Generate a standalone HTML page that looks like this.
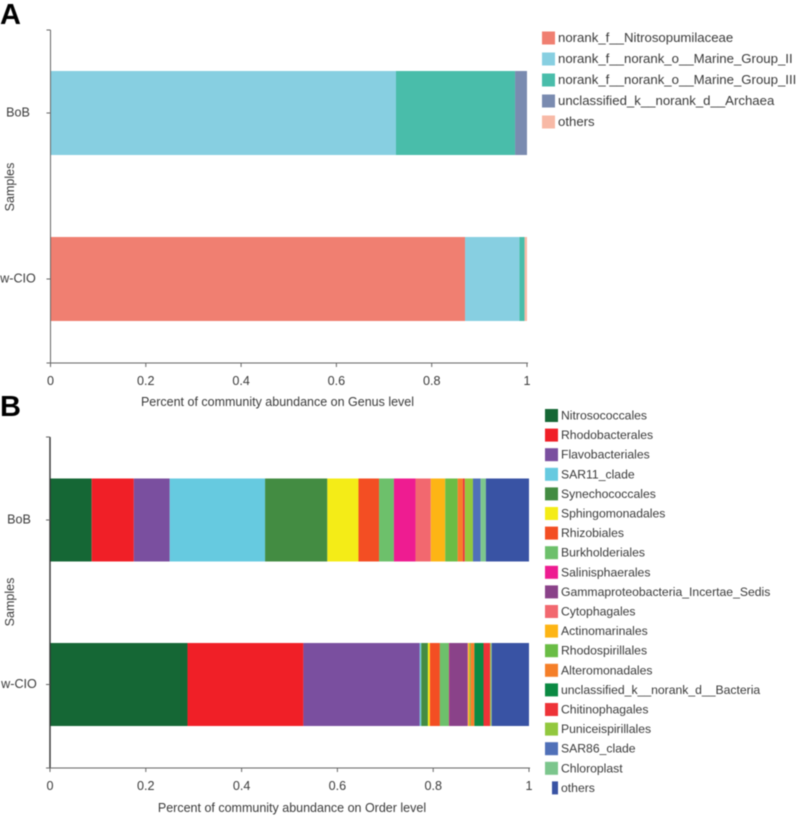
<!DOCTYPE html>
<html lang="en">
<head>
<meta charset="utf-8">
<title>Community abundance charts</title>
<style>
html,body{margin:0;padding:0;background:#fff;}
body{width:801px;height:818px;overflow:hidden;}
svg{display:block;filter:blur(0.45px);}
text{font-family:"Liberation Sans",sans-serif;fill:#3a3a3a;}
.panel{font-weight:bold;font-size:29px;fill:#000;}
.tick{font-size:12.6px;}
.title{font-size:12.5px;}
</style>
</head>
<body>
<svg id="figure" width="801" height="818" viewBox="0 0 801 818" xmlns="http://www.w3.org/2000/svg">
  <text class="panel" x="0" y="24">A</text>
  <text class="panel" x="0" y="416">B</text>
  <text class="title" transform="translate(14,187) rotate(-90)" text-anchor="middle">Samples</text>
  <text class="title" transform="translate(14,602) rotate(-90)" text-anchor="middle">Samples</text>
  <text class="title" x="277.5" y="406" text-anchor="middle">Percent of community abundance on Genus level</text>
  <text class="title" x="292" y="812" text-anchor="middle">Percent of community abundance on Order level</text>
  <g id="chart-a"></g>
  <g id="chart-b"></g>
</svg>
<script>
const samples = ["BoB", "w-CIO"];
const xTicks = [0, 0.2, 0.4, 0.6, 0.8, 1];

const genusNames = ["norank_f__Nitrosopumilaceae", "norank_f__norank_o__Marine_Group_II", "norank_f__norank_o__Marine_Group_III", "unclassified_k__norank_d__Archaea", "others"];
const genusColors = ["#f07f71", "#87cfe1", "#49bdaa", "#7a8bb0", "#f8b9a6"];
const genusBoB = [0, 0.725, 0.25, 0.025, 0];
const genusWCIO = [0.87, 0.114, 0.011, 0, 0.005];

const orderNames = ["Nitrosococcales", "Rhodobacterales", "Flavobacteriales", "SAR11_clade", "Synechococcales", "Sphingomonadales", "Rhizobiales", "Burkholderiales", "Salinisphaerales", "Gammaproteobacteria_Incertae_Sedis", "Cytophagales", "Actinomarinales", "Rhodospirillales", "Alteromonadales", "unclassified_k__norank_d__Bacteria", "Chitinophagales", "Puniceispirillales", "SAR86_clade", "Chloroplast", "others"];
const orderColors = ["#156735", "#f01f27", "#7a4f9f", "#66cae0", "#438c42", "#f4ec17", "#f34e23", "#6dc06b", "#ee1c91", "#8a4289", "#f2686f", "#fdb515", "#6abd45", "#f57f29", "#0b8a43", "#ee3338", "#92c83e", "#5070b8", "#7cc68d", "#3953a4"];
const orderBoB = [0.087, 0.088, 0.075, 0.199, 0.13, 0.065, 0.043, 0.031, 0.045, 0, 0.032, 0.03, 0.026, 0.011, 0, 0.004, 0.017, 0.016, 0.011, 0.09];
const orderWCIO = [0.287, 0.242, 0.243, 0.003, 0.014, 0.004, 0.021, 0.019, 0.001, 0.038, 0.001, 0.003, 0.002, 0.008, 0.019, 0.014, 0.002, 0, 0.001, 0.078];

const SVG_NS = "http://www.w3.org/2000/svg";

function make(parent, tag, attrs, content) {
  const node = document.createElementNS(SVG_NS, tag);
  for (const key in attrs) node.setAttribute(key, attrs[key]);
  if (content !== undefined) node.textContent = content;
  parent.appendChild(node);
  return node;
}

function drawChart(group, cfg) {
  const xScale = v => cfg.x0 + v * (cfg.x1 - cfg.x0);
  const yCenter = i => cfg.rowCenters[0] + i * (cfg.rowCenters[1] - cfg.rowCenters[0]);

  cfg.rows.forEach((row, r) => {
    let cumulative = 0;
    row.forEach((value, s) => {
      if (value <= 0) { return; }
      const bar = make(group, "rect", {
        x: xScale(cumulative),
        y: yCenter(r) - cfg.barHeight / 2,
        width: xScale(cumulative + value) - xScale(cumulative),
        height: cfg.barHeight,
        fill: cfg.colors[s]
      });
      
      
      cumulative += value;
    });
  });

  const yAxis = make(group, "line", {x1: cfg.x0, x2: cfg.x0, y1: cfg.axisTop, y2: cfg.axisBottom, stroke: cfg.yAxisColor, "stroke-width": cfg.yAxisWidth});
  
  
  const xAxis = make(group, "line", {x1: cfg.x0 - 4, x2: cfg.x1 + 1, y1: cfg.axisBottom, y2: cfg.axisBottom, stroke: "#666", "stroke-width": 1});
  
  
  const topTick = make(group, "line", {x1: cfg.x0 - 4, x2: cfg.x0, y1: cfg.axisTop, y2: cfg.axisTop, stroke: "#666", "stroke-width": 1});
  
  

  xTicks.forEach(t => {
    const tick = make(group, "line", {x1: xScale(t), x2: xScale(t), y1: cfg.axisBottom, y2: cfg.axisBottom + 4, stroke: "#666", "stroke-width": 1});
    
    
    const label = make(group, "text", {class: "tick", x: xScale(t), y: cfg.axisBottom + 22, "text-anchor": "middle"}, String(t));
    
    
  });

  samples.forEach((name, i) => {
    const tick = make(group, "line", {x1: cfg.x0 - 4, x2: cfg.x0, y1: yCenter(i), y2: yCenter(i), stroke: "#666", "stroke-width": 1});
    
    
    const label = make(group, "text", {class: "tick", x: cfg.sampleLabelX, y: yCenter(i) + 3.5, "text-anchor": "middle"}, name);
    
    
  });

  cfg.names.forEach((name, i) => {
    const cy = cfg.legendY + i * cfg.legendStep;
    const isNarrow = cfg.narrowLast && i === cfg.names.length - 1;
    const swatch = make(group, "rect", {
      x: isNarrow ? cfg.legendX + 7 : cfg.legendX,
      y: cy - 6.5,
      width: isNarrow ? 6 : 13,
      height: 13,
      fill: cfg.colors[i]
    });
    
    
    const label = make(group, "text", {x: cfg.legendX + 16, y: cy + 4, "font-size": cfg.legendFont}, name);
    
    
  });
}

drawChart(document.getElementById("chart-a"), {
  x0: 50.5, x1: 527, axisTop: 30, axisBottom: 363, rowCenters: [113, 279], barHeight: 84,
  rows: [genusBoB, genusWCIO], colors: genusColors, names: genusNames,
  legendX: 542, legendY: 38, legendStep: 21, legendFont: 13.2, yAxisColor: "#666", yAxisWidth: 1, narrowLast: false, sampleLabelX: 18
});

drawChart(document.getElementById("chart-b"), {
  x0: 50, x1: 529, axisTop: 437, axisBottom: 768, rowCenters: [520, 684.5], barHeight: 83,
  rows: [orderBoB, orderWCIO], colors: orderColors, names: orderNames,
  legendX: 545, legendY: 415.5, legendStep: 19.6, legendFont: 12.2, yAxisColor: "#333", yAxisWidth: 1.4, narrowLast: true, sampleLabelX: 19
});
</script>
</body>
</html>
